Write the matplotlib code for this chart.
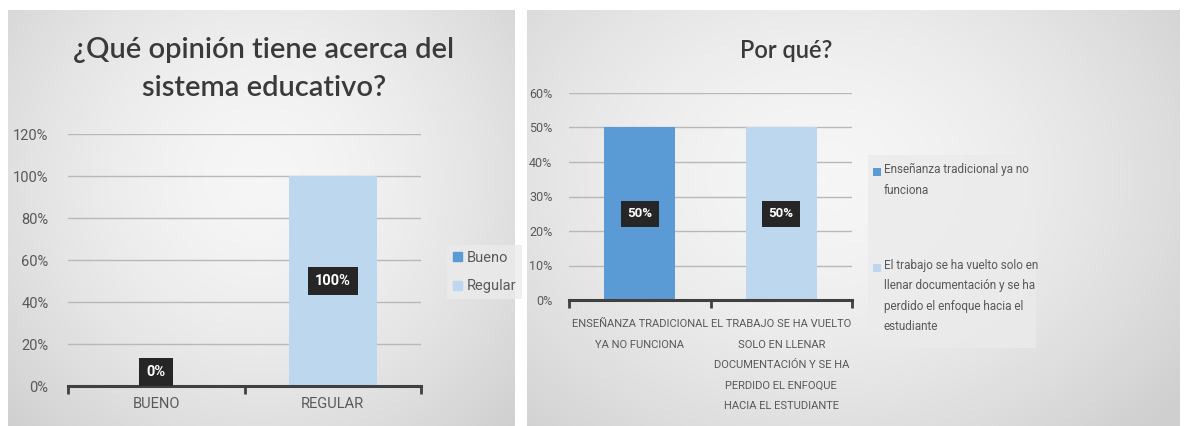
import numpy as np
import matplotlib
matplotlib.use("Agg")
import matplotlib.pyplot as plt
from matplotlib.patches import Patch, Rectangle

# data
left_title = "¿Qué opinión tiene acerca del\nsistema educativo?"
left_cats = ["BUENO", "REGULAR"]
left_legend = ["Bueno", "Regular"]
left_vals = [0, 100]
left_ticks = [0, 20, 40, 60, 80, 100, 120]

right_title = "Por qué?"
right_cats = ["ENSEÑANZA TRADICIONAL\nYA NO FUNCIONA",
              "EL TRABAJO SE HA VUELTO\nSOLO EN LLENAR\nDOCUMENTACIÓN Y SE HA\nPERDIDO EL ENFOQUE\nHACIA EL ESTUDIANTE"]
right_legend = ["Enseñanza tradicional ya no\nfunciona",
                "El trabajo se ha vuelto solo en\nllenar documentación y se ha\nperdido el enfoque hacia el\nestudiante"]
right_vals = [50, 50]
right_ticks = [0, 10, 20, 30, 40, 50, 60]

colors = ["#5b9bd5", "#bdd7ee"]
FONT = ["Roboto", "DejaVu Sans"]
TFONT = ["Lato", "DejaVu Sans"]
W, H = 1184, 426


def fbox(x0, y0, x1, y1):
    return [x0 / W, 1 - y1 / H, (x1 - x0) / W, (y1 - y0) / H]


def gradient_bg(rect, cx=0.5, cy=0.6):
    bg = fig.add_axes(rect, zorder=0)
    yy, xx = np.mgrid[0:1:200j, 0:1:200j]
    r = np.sqrt(((xx - cx) / 0.7) ** 2 + ((yy - cy) / 0.85) ** 2)
    v = 0.965 - 0.15 * np.clip(r, 0, 1) ** 1.6
    img = np.dstack([v, v, v])
    bg.imshow(img, extent=[0, 1, 0, 1], aspect="auto", origin="lower")
    bg.set_axis_off()
    return bg


def draw_chart(ax, cats, vals, ticks, ymax, fs, xfs, lfs, ypad, ls):
    x = np.arange(len(cats))
    ax.set_axisbelow(True)
    ax.yaxis.grid(True, color="#b8b8b8", lw=1)
    ax.bar(x, vals, width=0.5, color=colors, zorder=2)
    ax.set_xlim(-0.5, len(cats) - 0.5)
    ax.set_ylim(0, ymax)
    ax.set_yticks(ticks)
    ax.set_yticklabels([f"{t}%" for t in ticks], family=FONT, fontsize=fs, color="#595959")
    ax.set_xticks(x)
    ax.set_xticklabels(cats, family=FONT, fontsize=xfs, color="#595959", linespacing=ls,
                       va="top")
    ax.tick_params(axis="x", length=0, pad=8)
    ax.tick_params(axis="y", length=0, pad=ypad)
    ax.set_xticks(np.arange(-0.5, len(cats)), minor=True)
    ax.tick_params(axis="x", which="minor", length=6, width=2, color="#404040", direction="out")
    for s in ["top", "right", "left"]:
        ax.spines[s].set_visible(False)
    ax.spines["bottom"].set_color("#404040")
    ax.spines["bottom"].set_linewidth(2.2)
    ax.patch.set_alpha(0)
    for xi, v in zip(x, vals):
        ypos = v / 2 if v > 0 else ymax * 0.055
        ax.text(xi, ypos, f"{v}%", ha="center", va="center", color="white",
                fontsize=lfs, fontweight="bold", family=FONT, zorder=5,
                bbox=dict(boxstyle="square,pad=0.5", fc="#262626", ec="none"))


fig = plt.figure(figsize=(W / 100, H / 100), dpi=100)
fig.patch.set_facecolor("white")

gradient_bg(fbox(8, 10, 515, 426))
gradient_bg(fbox(527, 10, 1180, 426), cx=0.45)

# left chart
ax1 = fig.add_axes(fbox(68, 134, 421, 386), zorder=1)
draw_chart(ax1, left_cats, left_vals, left_ticks, 120, 10.5, 10.5, 10.5, 14, 1.4)
fig.text(264 / W, 1 - 69 / H, left_title, ha="center", va="center", fontsize=21,
         color="#3a3a3a", family=TFONT, fontweight="semibold", linespacing=1.6)
ax1.legend(handles=[Patch(color=c) for c in colors], labels=left_legend,
           loc="center left", bbox_to_anchor=(440 / W, 1 - 272 / H),
           bbox_transform=fig.transFigure, prop={"family": FONT, "size": 10.5},
           frameon=True, facecolor="#ebebeb", edgecolor="none", framealpha=0.8,
           handlelength=0.6, handleheight=0.6, handletextpad=0.3, labelspacing=1.0,
           fancybox=False, labelcolor="#595959")

# right chart
ax2 = fig.add_axes(fbox(569, 93, 852, 300), zorder=1)
draw_chart(ax2, right_cats, right_vals, right_ticks, 60, 9, 8, 9.5, 12, 2.3)
ax2.tick_params(axis="x", pad=14)
fig.text(786 / W, 1 - 50 / H, right_title, ha="center", va="center", fontsize=17,
         color="#3a3a3a", family=TFONT, fontweight="semibold")

# right legend (entries aligned to first line, like the reference)
fig.add_artist(Rectangle((868 / W, 1 - 348 / H), (1036 - 868) / W, (348 - 155) / H,
                         transform=fig.transFigure, fc="#ebebeb", ec="none", alpha=0.8,
                         zorder=1))
for c, lab, ytop in zip(colors, right_legend, [172, 268]):
    fig.add_artist(Rectangle((873 / W, 1 - (ytop + 4) / H), 8 / W, 8 / H,
                             transform=fig.transFigure, fc=c, ec="none", zorder=2))
    fig.text(884 / W, 1 - (ytop - 9) / H, lab, ha="left", va="top", fontsize=8.5,
             family=FONT, color="#595959", linespacing=1.75, zorder=2)

fig.savefig("out.png", dpi=100)
